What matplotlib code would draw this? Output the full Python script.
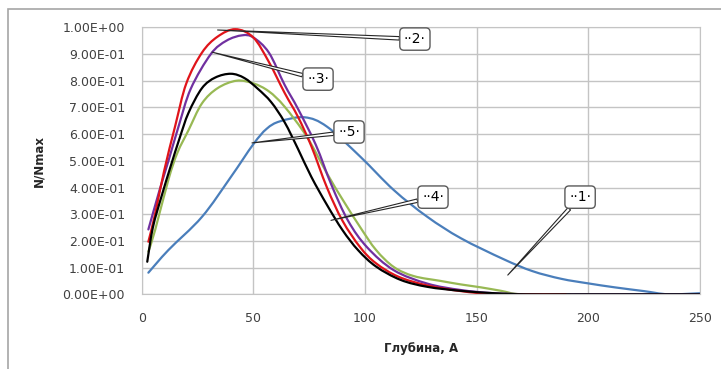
import numpy as np
import matplotlib
matplotlib.use('Agg')
from matplotlib import pyplot as plt
from matplotlib.patches import Rectangle, PathPatch
from matplotlib.path import Path

# curve 1 (blue)
x1 = [3, 12, 27, 40, 50, 56, 62, 73, 83, 98, 113, 128, 143, 162, 175, 188, 200, 212, 225, 236, 250]
y1 = [0.081, 0.166, 0.29, 0.44, 0.562, 0.62, 0.648, 0.663, 0.628, 0.515, 0.39, 0.29, 0.21,
      0.132, 0.087, 0.058, 0.041, 0.026, 0.012, 0.0, 0.004]
# curve 2 (red)
x2 = [3, 6, 10, 15, 20, 27, 34, 42, 50, 57, 64, 70, 76, 83, 90, 98, 105, 115, 128, 143, 158, 175, 190]
y2 = [0.197, 0.30, 0.46, 0.63, 0.79, 0.905, 0.965, 0.993, 0.962, 0.87, 0.755, 0.665, 0.555, 0.40,
      0.275, 0.175, 0.116, 0.066, 0.033, 0.012, 0.0, 0.0, 0.0]
# curve 3 (purple)
x3 = [3, 8, 12, 16.5, 22, 31, 38, 45, 50, 57, 64, 70, 78, 85, 92.5, 101, 113, 128, 143, 158, 175, 195, 250]
y3 = [0.243, 0.39, 0.50, 0.628, 0.77, 0.90, 0.95, 0.97, 0.962, 0.905, 0.785, 0.695, 0.56, 0.41,
      0.275, 0.176, 0.09, 0.04, 0.016, 0.004, 0.0, 0.0, 0.0]
# curve 4 (black)
x4 = [2.5, 5, 9, 13, 17, 21, 27, 33, 40, 46, 52, 58, 64, 70, 76, 83, 90, 97, 105, 116, 128, 143, 158, 172, 195, 250]
y4 = [0.122, 0.25, 0.37, 0.48, 0.585, 0.68, 0.772, 0.812, 0.826, 0.81, 0.77, 0.72, 0.645, 0.545,
      0.44, 0.335, 0.24, 0.165, 0.104, 0.054, 0.028, 0.013, 0.004, 0.0, 0.0, 0.0]
# curve 5 (green)
x5 = [3, 6, 12, 16, 21, 27, 34, 42.5, 50, 57, 64, 74, 83, 90, 98, 105, 113, 122, 134, 143, 152, 161, 170, 192]
y5 = [0.16, 0.24, 0.43, 0.53, 0.615, 0.715, 0.772, 0.80, 0.79, 0.76, 0.703, 0.59, 0.453, 0.355,
      0.25, 0.166, 0.102, 0.068, 0.05, 0.037, 0.026, 0.013, 0.0, 0.0]

yticks = np.arange(0, 1.01, 0.1)
xticks = [0, 50, 100, 150, 200, 250]

# callouts: label, anchor point, box centre
labels = ['··1·', '··2·', '··3·', '··4·', '··5·']
anchors = [(164, 0.072), (34, 0.99), (31.5, 0.907), (84.8, 0.277), (49.4, 0.567)]
boxes = [(196.4, 0.364), (122.4, 0.956), (79, 0.806), (130.5, 0.364), (92.9, 0.608)]


def smooth_path(x, y):
    # Excel-like smoothed line: Catmull-Rom segments as cubic Bezier curves
    p = np.column_stack([x, y]).astype(float)
    ext = np.vstack([p[0], p, p[-1]])
    verts = [p[0]]
    codes = [Path.MOVETO]
    for i in range(1, len(ext) - 2):
        c1 = ext[i] + (ext[i + 1] - ext[i - 1]) / 6.0
        c2 = ext[i + 1] - (ext[i + 2] - ext[i]) / 6.0
        verts += [c1, c2, ext[i + 1]]
        codes += [Path.CURVE4] * 3
    return Path(verts, codes)


def main():
    fig = plt.figure(figsize=(7.21, 3.69), dpi=100)
    fig.patches.append(Rectangle((8 / 721, -0.2), 1.2, 1.2 - 9 / 369, transform=fig.transFigure,
                                 fill=False, ec='#a6a6a6', lw=1.2))
    ax = fig.add_axes([0.1965, 0.2024, 0.774, 0.7236])

    series = [(x1, y1, '#4a7ebb'), (x5, y5, '#98b954'), (x3, y3, '#7030a0'),
              (x2, y2, '#e0141a'), (x4, y4, 'black')]
    for x, y, c in series:
        ax.add_patch(PathPatch(smooth_path(x, y), fill=False, ec=c, lw=1.6, capstyle='round'))

    ax.set_xlim(0, 250)
    ax.set_ylim(0, 1.0)
    ax.set_xticks(xticks)
    ax.set_yticks(yticks)
    ax.set_yticklabels(['%.2E' % v for v in yticks])
    ax.grid(True, color='#c4c4c4', lw=1)
    ax.set_axisbelow(True)
    for s in ax.spines.values():
        s.set_color('#c4c4c4')
    ax.tick_params(axis='both', length=0, labelsize=9, colors='#404040')
    ax.tick_params(axis='x', pad=12.5)
    ax.tick_params(axis='y', pad=12)

    ax.set_xlabel('Глубина, А', fontsize=8.5, fontweight='bold', color='#262626')
    ax.xaxis.set_label_coords(0.5, -0.179)
    ax.set_ylabel('N/Nmax', fontsize=8.5, fontweight='bold', color='#262626')
    ax.yaxis.set_label_coords(-0.172, 0.5)

    for lab, a, b in zip(labels, anchors, boxes):
        ax.annotate(lab, xy=a, xytext=b, ha='center', va='center', fontsize=10,
                    bbox=dict(boxstyle='round,pad=0.3', fc='white', ec='#595959', lw=1),
                    arrowprops=dict(arrowstyle='wedge,tail_width=0.25', fc='white',
                                    ec='#262626', lw=0.8, shrinkA=0, shrinkB=0),
                    annotation_clip=False)

    fig.savefig('out.png', dpi=100)


if __name__ == '__main__':
    main()
